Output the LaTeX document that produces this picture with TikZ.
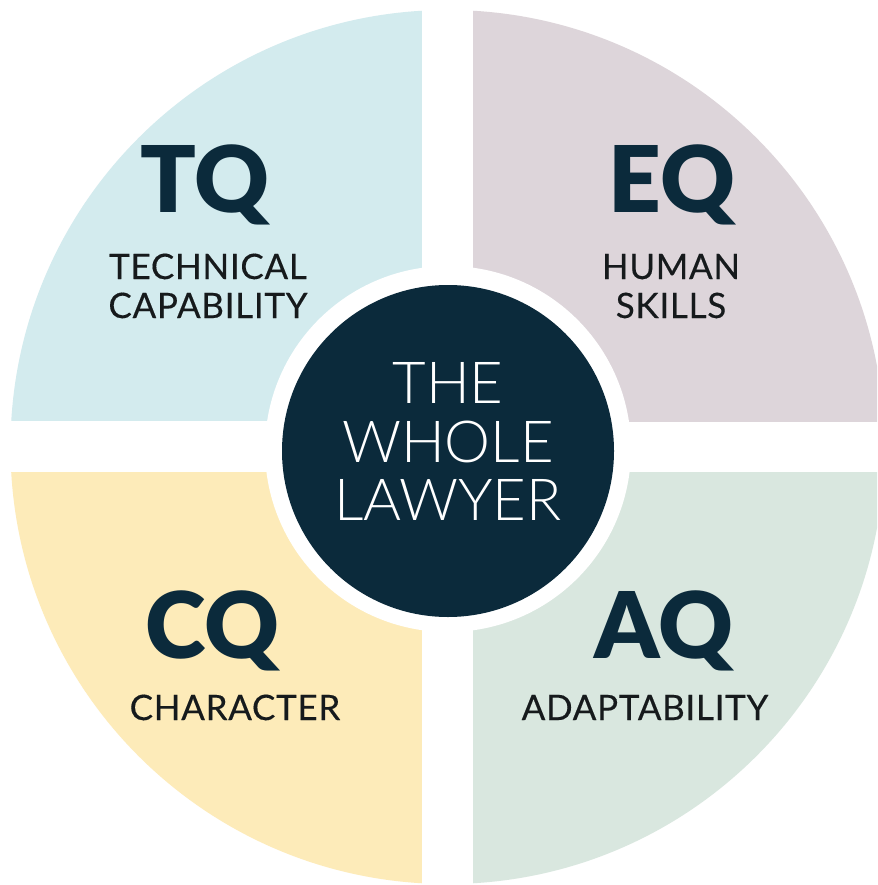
\documentclass[tikz,border=0pt]{standalone}
\usepackage{fontspec}
\setmainfont{Lato}
\newfontfamily\heavyfont{Lato Black}
\newfontfamily\lightfont{Lato Light}
\newfontfamily\labelfont[LetterSpace=2,FakeBold=0.3]{Lato}
\definecolor{navy}{HTML}{0B2A3B}
\definecolor{labelink}{HTML}{161A1C}
\definecolor{qtl}{HTML}{D3EBEE}
\definecolor{qtr}{HTML}{DDD5DA}
\definecolor{qbl}{HTML}{FDEBB9}
\definecolor{qbr}{HTML}{D9E7DF}
\tikzset{
  big/.style={font=\heavyfont\fontsize{92}{92}\selectfont, text=navy, anchor=base, inner sep=0pt},
  lbl/.style={font=\labelfont\fontsize{35}{35}\selectfont, text=labelink, anchor=base, inner sep=0pt},
  ctr/.style={font=\lightfont\fontsize{58}{58}\selectfont, text=white, anchor=base, inner sep=0pt}
}
\begin{document}
\begin{tikzpicture}[x=1pt,y=-1pt]
\useasboundingbox (0,0) rectangle (877,885);
\fill[white] (0,0) rectangle (877,885);
\begin{scope}
  \clip (0,0) rectangle (877,885);
  \clip (447.5,447) circle (437);
  \fill[qtl] (0,0) rectangle (422,421);
  \fill[qtr] (473,0) rectangle (900,422);
  \fill[qbl] (0,472) rectangle (422,900);
  \fill[qbr] (473,472) rectangle (900,900);
\end{scope}
\fill[white] (448,449) circle (183);
\node[circle, fill=navy, minimum size=332pt, inner sep=0pt] (core) at (448,451) {};
\node[ctr] (the) at (448,403) {THE};
\node[ctr] (whole) at (448,462) {WHOLE};
\node[ctr] (lawyer) at (448,520) {LAWYER};
\node[big] (tq) at (205,213) {TQ};
\node[lbl] (tq1) at (208,279) {TECHNICAL};
\node[lbl] (tq2) at (208,318) {CAPABILITY};
\node[big] (eq) at (672,213) {EQ};
\node[lbl] (eq1) at (671,279) {HUMAN};
\node[lbl] (eq2) at (671,318) {SKILLS};
\node[big] (cq) at (212,658) {CQ};
\node[lbl] (cq1) at (235,720) {CHARACTER};
\node[big] (aq) at (664,658) {AQ};
\node[lbl] (aq1) at (645,720) {ADAPTABILITY};
\end{tikzpicture}
\end{document}
